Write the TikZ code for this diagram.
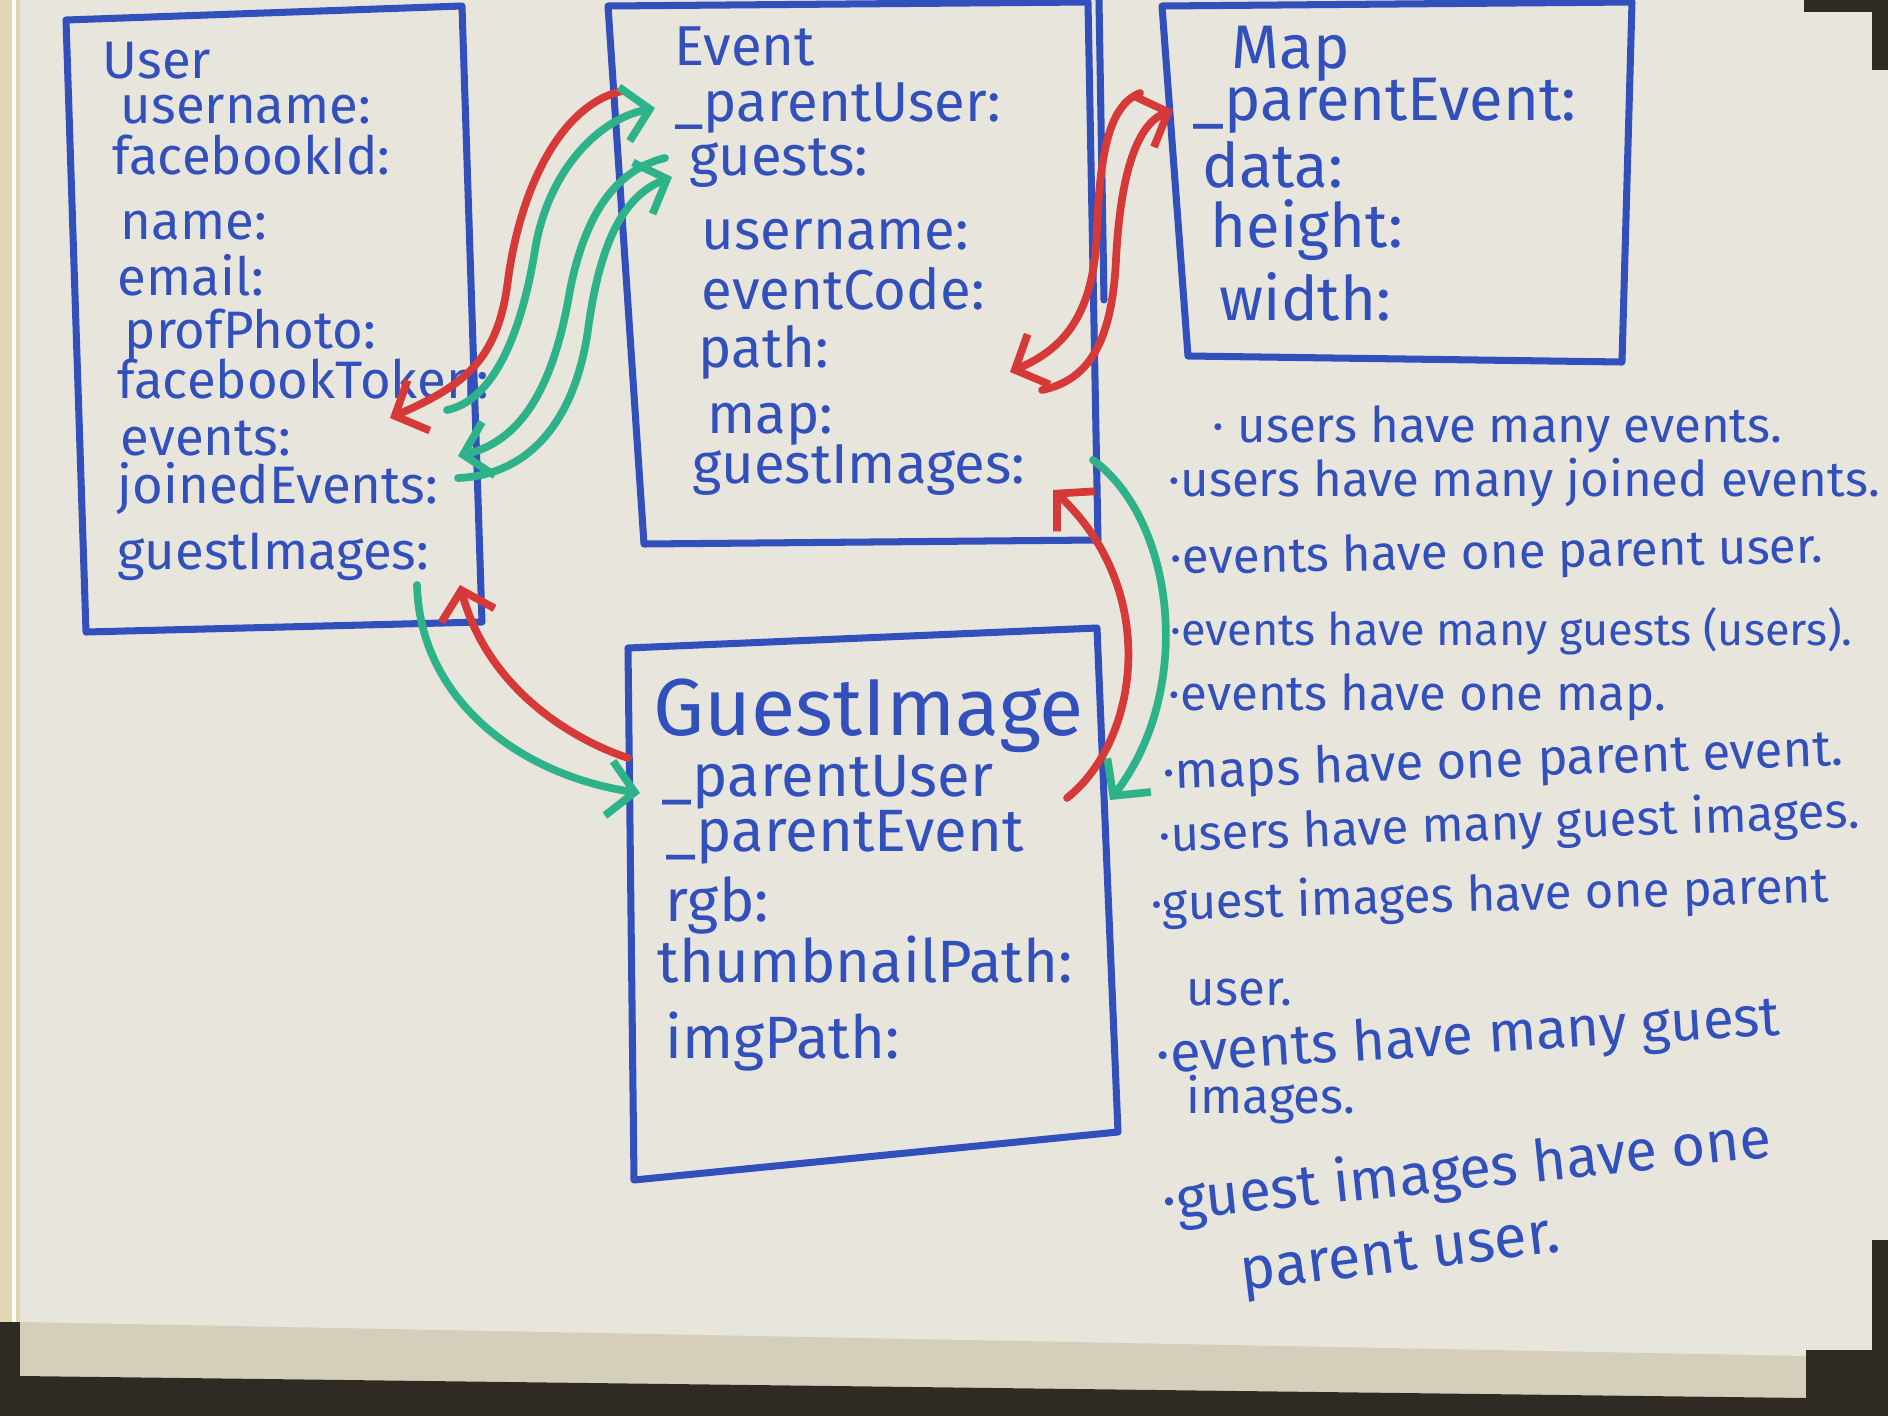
\documentclass[tikz,border=0pt]{standalone}
\usepackage{fontspec}
\setmainfont{Fira Sans}
\usetikzlibrary{arrows.meta}

\definecolor{board}{RGB}{232,229,221}
\definecolor{frame}{RGB}{224,214,178}
\definecolor{tray}{RGB}{212,206,186}
\definecolor{base}{RGB}{48,42,36}
\definecolor{ink}{RGB}{50,80,188}
\definecolor{redink}{RGB}{214,58,56}
\definecolor{greenink}{RGB}{46,178,138}

\newcommand\boardsize[1]{\fontsize{#1}{#1}\selectfont}

\begin{document}
\begin{tikzpicture}[x=0.1mm,y=-0.1mm,
  field/.style={anchor=west,inner sep=0pt,text=ink,font=\boardsize{#1},text height=.86em,text depth=0pt},
  outline/.style={draw=ink,line width=2pt,line join=round,line cap=round},
  redlink/.style={draw=redink,line width=2.2pt,line cap=round,-{Straight Barb[length=2.6mm,width=5.5mm]}},
  greenlink/.style={draw=greenink,line width=2.2pt,line cap=round,-{Straight Barb[length=2.6mm,width=5.5mm]}}]
\useasboundingbox (0,0) rectangle (1888,1416);
\fill[board] (0,0) rectangle (1888,1416);
\fill[frame] (0,0) rectangle (20,1322);
\draw[white,line width=1pt] (14,0) -- (14,1322);
\fill[tray] (20,1322) -- (1806,1356) -- (1806,1398) -- (20,1376) -- cycle;
\fill[base] (0,1322) rectangle (20,1416);
\fill[base] (20,1376) -- (1806,1398) -- (1806,1416) -- (20,1416) -- cycle;
\fill[base] (1806,1350) rectangle (1888,1416);
\fill[base] (1872,1240) rectangle (1888,1416);
\fill[base] (1804,0) rectangle (1888,12);
\fill[base] (1872,0) rectangle (1888,70);

\draw[outline] (66,20) -- (462,6) -- (482,622) -- (86,632) -- cycle;
\draw[outline] (608,6) -- (1088,2) -- (1098,540) -- (644,544) -- cycle;
\draw[outline] (1099,0) -- (1104,300);
\draw[outline] (1162,6) -- (1632,2) -- (1622,362) -- (1188,356) -- cycle;
\draw[outline] (628,648) -- (1097,628) -- (1118,1132) -- (634,1180) -- cycle;

\foreach \n/\x/\y/\t in {u-title/102/63/User, u-uname/120/108/username:, u-fbid/112/159/facebookId:,
    u-name/120/224/name:, u-email/117/280/email:, u-photo/124/333/profPhoto:, u-token/117/383/facebookToken:,
    u-events/120/440/events:, u-joined/117/488/joinedEvents:, u-images/117/554/guestImages:}
  \node[field=15] (\n) at (\x,\y) {\t};
\foreach \n/\x/\y/\t in {e-title/674/50/Event, e-puser/674/106/\_parentUser:, e-guests/689/160/guests:,
    e-uname/701/234/username:, e-code/701/294/eventCode:, e-path/698/352/path:, e-map/707/418/map:,
    e-images/692/468/guestImages:}
  \node[field=16] (\n) at (\x,\y) {\t};
\foreach \n/\x/\y/\t in {m-title/1231/53/Map, m-pevent/1192/105/\_parentEvent:, m-data/1202/172/data:,
    m-height/1210/232/height:, m-width/1219/305/width:}
  \node[field=17.5] (\n) at (\x,\y) {\t};
\node[field=23] (g-title) at (653,720) {GuestImage};
\foreach \n/\x/\y/\t in {g-puser/661/781/\_parentUser, g-pevent/665/836/\_parentEvent, g-rgb/665/906/rgb:,
    g-thumb/657/967/thumbnailPath:, g-img/665/1043/imgPath:}
  \node[field=17] (\n) at (\x,\y) {\t};

\foreach \n/\x/\y/\r/\s/\t in {n1/1212/427/0/14/{· users have many events.},
    n2/1168/481/0/14/{·users have many joined events.}, n3/1170/559/1/14/{·events have one parent user.},
    n4/1170/630/0/12.8/{·events have many guests (users).}, n5/1168/695/0/14/{·events have one map.},
    n6/1162/774/2/14.5/{·maps have one parent event.}, n7/1158/837/2/14/{·users have many guest images.},
    n8/1150/905/1.5/14/{·guest images have one parent}, n9/1186/990/0/14/{user.},
    n10/1156/1058/3.5/16/{·events have many guest}, n11/1186/1098/0/14/{images.},
    n12/1162/1206/6/16.5/{·guest images have one}, n13/1240/1276/7/17/{parent user.}}
  \node[field=\s,rotate=\r] (\n) at (\x,\y) {\t};

\draw[redlink] ([shift={(-52,-15)}]e-puser.west) .. controls (560,105) and (520,190) .. (508,280)
  .. controls (498,360) and (465,385) .. ([shift={(270,-22)}]u-events.west);
\draw[greenlink] ([shift={(327,-30)}]u-events.west) .. controls (495,400) and (522,330) .. (535,250)
  .. controls (547,175) and (595,120) .. ([shift={(-19,2)}]e-puser.west);
\draw[greenlink] ([shift={(-24,-2)}]e-guests.west) .. controls (615,170) and (585,215) .. (570,290)
  .. controls (555,380) and (525,440) .. ([shift={(341,-32)}]u-joined.west);
\draw[greenlink] ([shift={(341,-10)}]u-joined.west) .. controls (530,475) and (575,420) .. (588,330)
  .. controls (600,240) and (625,195) .. ([shift={(-17,17)}]e-guests.west);
\draw[redlink] ([shift={(-52,-12)}]m-pevent.west) .. controls (1110,105) and (1100,150) .. (1097,230)
  .. controls (1094,320) and (1060,350) .. ([shift={(303,-46)}]e-map.west);
\draw[redlink] ([shift={(335,-28)}]e-map.west) .. controls (1090,380) and (1112,340) .. (1116,260)
  .. controls (1120,180) and (1135,125) .. ([shift={(-19,5)}]m-pevent.west);
\draw[redlink] ([shift={(-33,-23)}]g-puser.west) .. controls (560,735) and (485,680) .. ([shift={(343,31)}]u-images.west);
\draw[greenlink] ([shift={(300,31)}]u-images.west) .. controls (420,700) and (520,775) .. ([shift={(-21,12)}]g-puser.west);
\draw[greenlink] ([shift={(401,-8)}]e-images.west) .. controls (1175,520) and (1195,690) .. ([shift={(445,-36)}]g-pevent.west);
\draw[redlink] ([shift={(402,-38)}]g-pevent.west) .. controls (1140,740) and (1160,590) .. ([shift={(361,22)}]e-images.west);
\end{tikzpicture}
\end{document}
